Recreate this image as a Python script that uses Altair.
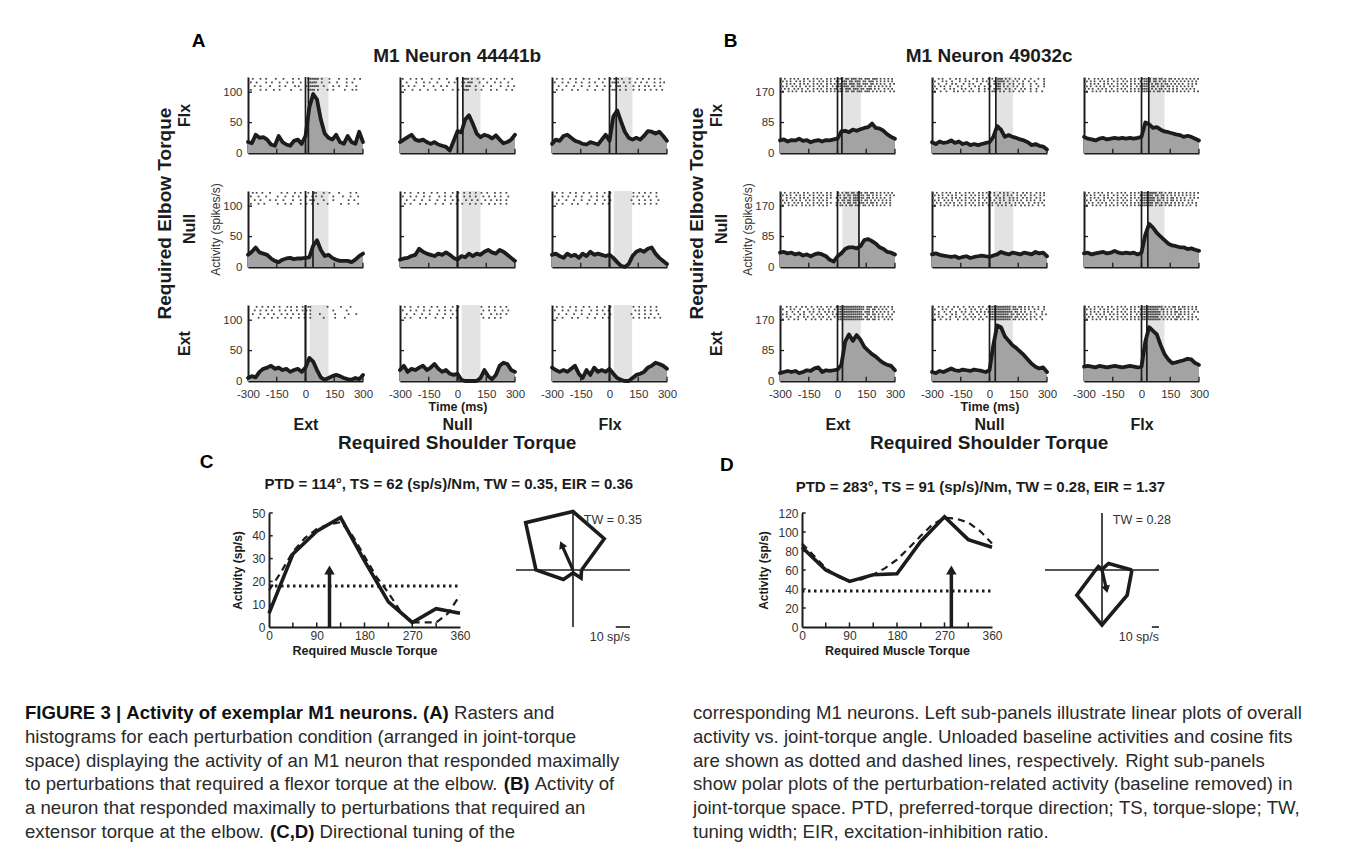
import altair as alt
import pandas as pd

FONT = "Liberation Sans"
INK = "#1c1c1c"
LAB = "#333333"

# ---------------- categories, ticks ----------------
TIME_MS = [-300 + 20 * k for k in range(31)]
ELBOW = ["Flx", "Null", "Ext"]
SHOULDER = ["Ext", "Null", "Flx"]
TIME_TICKS = [-300, -150, 0, 150, 300]
A_YTICKS = [0, 50, 100]
B_YTICKS = [0, 85, 170]
A_YMAX = 125
B_YMAX = 212
A_RASTER_LEVELS = [122, 116, 110, 104]
B_RASTER_LEVELS = [207, 200, 193, 186, 179, 172]

# ---------------- Neuron 44441b (panel A) firing rate, spikes/s, every 20 ms ----------------
a_flx_ext = [18, 16, 30, 25, 26, 22, 14, 12, 28, 18, 14, 12, 20, 22, 15, 28, 75, 97, 88, 55, 32, 25, 22, 30, 18, 15, 28, 18, 15, 35, 18]
a_flx_null = [18, 22, 26, 30, 22, 20, 22, 18, 15, 18, 14, 12, 10, 4, 20, 36, 34, 55, 62, 48, 32, 26, 30, 28, 24, 29, 22, 16, 18, 22, 30]
a_flx_flx = [15, 22, 20, 28, 30, 25, 20, 18, 15, 14, 18, 16, 14, 22, 30, 20, 60, 70, 52, 35, 25, 22, 25, 22, 28, 36, 35, 32, 35, 28, 20]
a_null_ext = [20, 25, 32, 24, 22, 20, 14, 10, 8, 12, 14, 15, 13, 14, 14, 15, 16, 35, 44, 28, 18, 20, 15, 12, 10, 10, 10, 8, 12, 18, 22]
a_null_null = [12, 14, 15, 18, 20, 30, 25, 22, 20, 18, 22, 20, 24, 20, 15, 12, 18, 16, 22, 18, 22, 20, 25, 28, 24, 22, 28, 25, 20, 15, 10]
a_null_flx = [20, 22, 18, 15, 22, 18, 20, 15, 22, 18, 25, 20, 22, 20, 18, 20, 15, 8, 2, 0, 5, 18, 25, 28, 25, 30, 32, 22, 15, 10, 5]
a_ext_ext = [5, 8, 6, 15, 20, 22, 25, 20, 22, 18, 20, 15, 18, 20, 15, 22, 38, 32, 18, 6, 2, 5, 8, 10, 8, 5, 3, 2, 5, 3, 10]
a_ext_null = [18, 25, 15, 20, 18, 22, 25, 18, 22, 28, 20, 15, 18, 12, 10, 12, 2, 0, 0, 0, 0, 5, 18, 8, 3, 10, 25, 30, 28, 18, 15]
a_ext_flx = [22, 18, 15, 18, 15, 20, 25, 12, 5, 18, 10, 22, 15, 18, 15, 20, 12, 5, 2, 0, 0, 5, 10, 12, 15, 22, 25, 30, 28, 25, 20]

# ---------------- Neuron 49032c (panel B) ----------------
b_flx_ext = [35, 38, 32, 36, 35, 40, 34, 36, 30, 34, 36, 32, 36, 35, 38, 40, 60, 62, 58, 65, 62, 66, 70, 72, 82, 70, 68, 62, 52, 45, 40]
b_flx_null = [30, 25, 32, 28, 30, 35, 28, 32, 25, 28, 22, 25, 22, 25, 28, 30, 45, 75, 65, 45, 50, 45, 42, 38, 35, 30, 22, 25, 20, 18, 10]
b_flx_flx = [45, 40, 38, 35, 40, 42, 38, 40, 42, 40, 42, 40, 42, 40, 42, 45, 85, 80, 70, 72, 65, 60, 58, 55, 52, 50, 45, 48, 45, 40, 35]
b_null_ext = [40, 42, 38, 40, 35, 38, 32, 35, 30, 35, 38, 35, 30, 20, 15, 30, 38, 50, 55, 55, 52, 58, 75, 78, 72, 65, 55, 50, 42, 40, 35]
b_null_null = [35, 38, 34, 32, 30, 28, 30, 25, 28, 30, 25, 28, 30, 32, 30, 28, 32, 35, 42, 38, 35, 40, 38, 35, 40, 38, 35, 42, 38, 40, 30]
b_null_flx = [38, 40, 35, 38, 40, 42, 38, 40, 45, 40, 38, 40, 38, 40, 35, 40, 90, 120, 110, 95, 85, 75, 65, 60, 58, 55, 55, 50, 52, 48, 45]
b_ext_ext = [22, 25, 28, 25, 28, 22, 25, 30, 28, 35, 38, 25, 30, 28, 30, 32, 45, 110, 130, 112, 128, 115, 95, 85, 75, 68, 58, 50, 45, 42, 30]
b_ext_null = [25, 22, 28, 25, 30, 35, 30, 28, 32, 30, 28, 32, 30, 28, 25, 30, 100, 155, 150, 125, 112, 100, 92, 82, 72, 60, 48, 40, 35, 38, 25]
b_ext_flx = [40, 42, 40, 38, 42, 40, 38, 40, 42, 40, 38, 40, 42, 40, 38, 40, 110, 150, 140, 130, 100, 75, 60, 50, 52, 55, 58, 62, 60, 50, 45]

# second event marker (ms, 0 = none) and shaded window, order Flx/Null/Ext rows x Ext/Null/Flx cols
a_marker = [15, 28, 35, 39, 0, 0, 0, 0, 0]
a_shade_start = [15, 28, 35, 39, 22, 22, 22, 22, 22]
a_shade_end = [120, 120, 120, 120, 120, 118, 120, 120, 118]
b_marker = [23, 33, 38, 112, 0, 33, 26, 30, 28]
b_shade_start = [23, 35, 38, 25, 26, 33, 26, 30, 28]
b_shade_end = [122, 122, 120, 112, 124, 120, 122, 122, 120]

# rasters: one string per trial, one character per 10 ms bin from -300 ms, "x" = spike
ra_flx_ext = ["  x   x  x    x   x    x  x    xxxxxx x   x    x   x   x  x ",
              " x  x    x  x   x   x  x   x   xxxxx  x   x   x    x  x     ",
              "   x  x    x    x  x    x x   x xxxxx  x    x  x   x    x  ",
              " x    x  x   x  x     x    x   xxxx x    x  x     x   x x   "]
ra_flx_null = [" x   x  x  x    x   x   x    x   xxx x  x  x   x  x   x   x ",
               "   x    x   x  x   x     x  x   xx xxx   x   x   x  x   x   ",
               " x  x  x    x    x   x  x       x xxx  x   x   x    x   x  x",
               "  x   x   x   x   x   x    x  x  xxx   x  x    x  x    x  x "]
ra_flx_flx = ["  x  x   x  x   x  x    x  x  x xxx x   x   x  x  x  x  x  ",
              " x   x  x   x  x   x  x   x    xxxx  x  x  x  x  x   x  x x",
              "   x   x   x   x   x   x   x  x  xxx  x   x  x  x x  x  x  ",
              "  x  x    x  x    x   x   x    xxx x  x   x  x  x  x  x  x "]
ra_null_ext = ["  x x  x   x     x  x   x  x   x  xx   x  x    x     x  x  ",
               " x   x   x     x   x   x  x   x  x x  x     x    x   x   x ",
               "   x  x    x  x   x    x   x    xxx    x    x       x  x   ",
               " x   x  x      x   x  x    x  x  x  x    x      x   x    x "]
ra_null_null = ["  x  x   x  x   x  x   x   x  x  x  x  x  x  x   x  x  x  ",
                " x   x  x   x  x    x  x  x  x   x  x  x   x  x  x  x   x ",
                "   x   x   x   x   x   x   x  x   x  x  x   x  x  x x  x  ",
                "  x  x    x  x    x   x   x  x  x   x  x  x   x  x  x  x  "]
ra_null_flx = ["  x  x   x  x   x  x   x   x  x           x  x  x  x  x   ",
               " x   x  x   x  x    x  x  x  x            x x  x  x   x   ",
               "   x   x   x   x   x   x   x  x          x   x  x  x   x   ",
               "  x  x    x  x    x   x   x  x            x  x  x  x  x    "]
ra_ext_ext = ["    x  x  x  x  x   x x  x  x  xx        x      x    x    ",
              "   x  x  x  x   x  x  x  x  x x x           x      x      ",
              "  x   x   x  x   x  x  x  x  x  x    x       x      x   x  ",
              "     x  x   x  x   x  x   x  x  x      x     x    x       "]
ra_ext_null = ["  x  x   x  x   x  x   x   x  x           x   x  x  x  x  ",
               " x   x  x   x  x    x  x  x  x             x  x  x   x  x  ",
               "   x   x   x   x   x   x   x              x    x  x x  x   ",
               "  x  x    x  x    x   x   x  x             x  x  x  x     "]
ra_ext_flx = ["  x  x   x  x   x  x   x   x  x           x  x  x  x  x   ",
              " x   x  x   x  x    x  x  x  x             x x  x  x  x   ",
              "   x   x   x   x   x   x   x  x          x   x  x  x   x  ",
              "  x  x    x  x    x   x   x  x            x  x  x x  x  x "]

rb_flx_ext = ["x x  x x x  x x  x x x  x x x xxx xx xxx xx xxx xxx x x x x ",
              " x x x  x x x  x x  x x x x  xx xxx xx xxx xx xxx x x x x x ",
              "x  x x x  x x x  x x x  x x x xx xx xxx xx xxx xx x x x  x x",
              " x x  x x x  x x x  x x x  x xxx xxx xx xxx x xx x x x x x  ",
              "x x x  x x x  x  x x x  x x xx xx xxx xxx xx xxx x x  x x x ",
              " x  x x x  x x x x  x x x x x xxx xx xx xxx xxx x x x x  x x"]
rb_flx_null = ["x  x x   x  x x  x   x x  x  x x  xxx x x  x x  x  x   x  x ",
               " x   x x  x   x  x x   x  x x   x xxxx x  x x  x  x  x    x ",
               "x  x   x  x x   x  x x   x   x  xxxx x  x x  x x   x  x   x ",
               " x  x x  x   x x   x  x x  x  x  xxx x x  x x  x   x   x  x",
               "x x   x  x x   x x  x   x  x x  xxxx  x x  x  x x  x  x    ",
               " x  x  x   x x  x  x x  x  x   xxx x x  x x  x x   x  x  x "]
rb_flx_flx = ["x x  x x x  x x  x x x  x x x xxxxx xx xx x xx x x x x x x x",
              " x x x  x x x  x x  x x x x  x xxxx xx x xx x x x x x x x x ",
              "x  x x x  x x x  x x x  x x x xxxx x xx x xx x x x x  x x x ",
              " x x  x x x  x x x  x x x  x xxxxx xx x xx xx x x x x x x  ",
              "x x x  x x x  x  x x x  x x x xxxx x x xx x x x x  x x x x ",
              " x  x x x  x x x x  x x x x x xxxxx x xx x xx x x x x x  x x"]
rb_null_ext = ["x x  x x x  x x  x x x  x x   x x xx xx xxx xx xx x x x x x ",
               " x x x  x x x  x x  x x x x   xx x xx xxx xx xx x x x  x x x",
               "x  x x x  x x x  x x x  x x  x x xx x xxx xx xx x x x x  x ",
               " x x  x x x  x x x  x x x     x xx xx xxx x xx x x x x x x ",
               "x x x  x x x  x  x x x  x x  x x x xx xx xxx x xx x  x x x ",
               " x  x x x  x x x x  x x x    x xx x xx xxx xx x x x x x  x "]
rb_null_null = ["x x  x x x  x x  x x x  x x x x x  x x x  x x  x x x  x x x ",
                " x x x  x x x  x x  x x x x  x  x x  x x x  x x x  x x  x x",
                "x  x x x  x x x  x x x  x x x x  x x x  x x x  x x x  x x  ",
                " x x  x x x  x x x  x x x  x  x x  x x  x x x x  x x x  x x",
                "x x x  x x x  x  x x x  x x x  x x x  x x  x x x  x  x x x ",
                " x  x x x  x x x x  x x x x  x x  x x x  x x  x x x x  x  x"]
rb_null_flx = ["x x  x x x  x x  x x x  x x x xxxxxxxx xx x xx x x x x x x x",
               " x x x  x x x  x x  x x x x  xxxxxxx xx xx x x x x x x x x ",
               "x  x x x  x x x  x x x  x x x xxxxxxx x xx x xx x x x  x x x",
               " x x  x x x  x x x  x x x  x xxxxxxxx xx x x xx x x x x x  ",
               "x x x  x x x  x  x x x  x x x xxxxxx xx x xx x x x x  x x x ",
               " x  x x x  x x x x  x x x x xxxxxxxx x xx x xx x x x x x  x"]
rb_ext_ext = ["x  x x  x  x x  x  x x  x x  xxxxxxxxxxxxxxx xxx xx x x x x ",
              " x   x x  x   x  x  x x  x  x xxxxxxxxxxxxxx xx xx x x x  x ",
              "x  x  x  x  x  x x  x  x x x  xxxxxxxxxxxxx xxx x x x x x  x",
              " x x   x  x x   x  x x  x  x xxxxxxxxxxxxxxx xx xx x x  x x ",
              "x  x x   x  x x  x  x x  x  x xxxxxxxxxxxxx xx x x x x x x  ",
              " x  x  x x   x  x x  x  x x   xxxxxxxxxxxxxx xx xx x  x x x "]
rb_ext_null = ["x  x x  x  x x  x  x x  x x  xxxxxxxxxxxx xx xx x x x  x  x ",
               " x   x x  x   x  x  x x  x  x xxxxxxxxxxx xxx x x x  x x  x ",
               "x  x  x  x  x  x x  x  x x x xxxxxxxxxxxxx xx x x  x x   x  ",
               " x x   x  x x   x  x x  x  x  xxxxxxxxxx xx xx x x x  x  x x",
               "x  x x   x  x x  x  x x  x  x xxxxxxxxxxxx xx x x  x x  x   ",
               " x  x  x x   x  x x  x  x x   xxxxxxxxxxx xx x x x x  x  x  "]
rb_ext_flx = ["x x  x x x  x x  x x x  x x x xxxxxxxxxxx x x xx x xx x x x ",
              " x x x  x x x  x x  x x x x  xxxxxxxxxx xx x x x xx x x x x ",
              "x  x x x  x x x  x x x  x x x xxxxxxxxxx x x x xx x x x  x x",
              " x x  x x x  x x x  x x x  x xxxxxxxxxxx x x x x xx x x x  ",
              "x x x  x x x  x  x x x  x x x xxxxxxxxx x x x x xx x  x x x ",
              " x  x x x  x x x x  x x x x x xxxxxxxxxx x x x xx x x x x  x"]

# ---------------- panels C / D: tuning vs joint-torque angle ----------------
TORQUE_DIRS = [0, 45, 90, 135, 180, 225, 270, 315, 360]
FIT_DIRS = [0, 22.5, 45, 67.5, 90, 112.5, 135, 157.5, 180, 202.5, 225, 247.5, 270, 292.5, 315, 337.5, 360]
ANGLE_LABELS = [0, 90, 180, 270, 360]
ANGLE_MINOR = [45, 90, 135, 180, 225, 270, 315]
POLAR_DIRS = [0, 45, 90, 135, 180, 225, 270, 315]

c_activity = [6, 32, 42, 48, 29, 11, 2, 8, 6]
c_fit = [16, 24, 33, 39, 43, 45, 46, 40, 31, 22, 15, 7, 2, 2, 2, 6, 14]
c_baseline = 18
c_ptd = 114
c_arrow = 25
c_polar_r = [6, 31, 41, 47, 26, 9.5, 2, 8]
c_polar_arrow = 19.5
c_yticks = [0, 10, 20, 30, 40, 50]

d_activity = [84, 60, 48, 55, 56, 90, 116, 92, 84]
d_fit = [88, 75, 62, 53, 48, 50, 55, 62, 71, 83, 96, 108, 115, 114, 110, 101, 88]
d_baseline = 38
d_ptd = 283
d_arrow = 60
d_polar_r = [42, 13, 1, 7, 9, 50, 77, 50]
d_polar_arrow = 28
d_yticks = [0, 20, 40, 60, 80, 100, 120]

# ---------------- caption ----------------
cap_left = [
    [("FIGURE 3 | Activity of exemplar M1 neurons. (A)", True), (" Rasters and", False)],
    [("histograms for each perturbation condition (arranged in joint-torque", False)],
    [("space) displaying the activity of an M1 neuron that responded maximally", False)],
    [("to perturbations that required a flexor torque at the elbow. ", False), ("(B)", True), (" Activity of", False)],
    [("a neuron that responded maximally to perturbations that required an", False)],
    [("extensor torque at the elbow. ", False), ("(C,D)", True), (" Directional tuning of the", False)],
]
cap_right = [
    [("corresponding M1 neurons. Left sub-panels illustrate linear plots of overall", False)],
    [("activity vs. joint-torque angle. Unloaded baseline activities and cosine fits", False)],
    [("are shown as dotted and dashed lines, respectively. Right sub-panels", False)],
    [("show polar plots of the perturbation-related activity (baseline removed) in", False)],
    [("joint-torque space. PTD, preferred-torque direction; TS, torque-slope; TW,", False)],
    [("tuning width; EIR, excitation-inhibition ratio.", False)],
]

# Arial / Liberation Sans advance widths (1/1000 em), used to place words of mixed weight
REG_W = {" ": 278, "a": 556, "b": 556, "c": 500, "d": 556, "e": 556, "f": 278, "g": 556, "h": 556, "i": 222,
         "j": 222, "k": 500, "l": 222, "m": 833, "n": 556, "o": 556, "p": 556, "q": 556, "r": 333, "s": 500,
         "t": 278, "u": 556, "v": 500, "w": 722, "x": 500, "y": 500, "z": 500, ".": 278, ",": 278, "(": 333,
         ")": 333, "-": 333, ";": 278, ":": 278, "|": 260, "A": 667, "B": 667, "C": 722, "D": 722, "E": 667,
         "F": 611, "G": 778, "I": 278, "L": 556, "M": 833, "P": 667, "R": 722, "S": 667, "T": 611, "U": 722,
         "W": 944}
BOLD_W = {" ": 278, "a": 556, "b": 611, "c": 556, "d": 611, "e": 556, "f": 333, "g": 611, "h": 611, "i": 278,
          "j": 278, "k": 556, "l": 278, "m": 889, "n": 611, "o": 611, "p": 611, "q": 611, "r": 389, "s": 556,
          "t": 333, "u": 611, "v": 556, "w": 778, "x": 556, "y": 556, "z": 500, ".": 278, ",": 278, "(": 333,
          ")": 333, "|": 280, "A": 722, "B": 722, "C": 722, "D": 722, "E": 667, "F": 611, "G": 778, "I": 278,
          "M": 833, "R": 722, "U": 722}
CAP_FS_REG = 18.6
CAP_FS_BOLD = 18.6
CAP_LINE = 23.8


def text_w(s, bold):
    tbl = BOLD_W if bold else REG_W
    size = CAP_FS_BOLD if bold else CAP_FS_REG
    return sum(tbl.get(c, 556) for c in s) * size / 1000.0


def raster_df(rows, levels):
    recs = []
    for row, lev in zip(rows, levels):
        for i, ch in enumerate(row[:60]):
            if ch == "x":
                recs.append({"t": -300 + 10 * i + 5, "y": lev})
    return pd.DataFrame(recs)


def hist_cell(act, rows, levels, marker, s0, s1, ymax, yticks, i, j):
    xs = alt.Scale(domain=[-300, 300], nice=False, zero=False)
    ys = alt.Scale(domain=[0, ymax], nice=False, zero=True)
    common = dict(ticks=False, tickSize=0, domainColor=INK, domainWidth=2, grid=False, labelFontSize=11.5,
                  labelColor=LAB, labelFont=FONT, titleFont=FONT, titleColor=INK, labelFlush=False)
    xkw = dict(common, values=TIME_TICKS, labels=(i == 2), labelPadding=7, labelAngle=0, labelOverlap=False,
               labelExpr="'' + datum.value")
    if i == 2 and j == 1:
        xkw.update(title="Time (ms)", titleFontSize=12.5, titleFontWeight="bold", titlePadding=1)
    elif i == 2:
        xkw.update(title=SHOULDER[j], titleFontSize=16, titleFontWeight="bold", titlePadding=17)
    else:
        xkw.update(title=None)
    ykw = dict(common, values=yticks, labels=(j == 0), labelPadding=6)
    if j == 0 and i == 1:
        ykw.update(title="Activity (spikes/s)", titleFontSize=12, titleFontWeight="normal", titlePadding=0,
                   titleColor=LAB)
    elif j == 0:
        ykw.update(title=ELBOW[i], titleFontSize=16, titleFontWeight="bold", titlePadding=30)
    else:
        ykw.update(title=None)
    xax = alt.Axis(**xkw)
    yax = alt.Axis(**ykw)

    def X(f):
        return alt.X(f, type="quantitative", scale=xs, axis=xax)

    def Y(f):
        return alt.Y(f, type="quantitative", scale=ys, axis=yax)

    shade = alt.Chart(pd.DataFrame({"s0": [s0], "s1": [s1], "lo": [0], "hi": [ymax]})).mark_rect(
        color="#e3e3e3").encode(x=X("s0"), x2="s1", y=Y("lo"), y2="hi")
    hist = pd.DataFrame({"t": TIME_MS, "v": act})
    area = alt.Chart(hist).mark_area(color="#a3a3a3").encode(x=X("t"), y=Y("v"))
    rast = alt.Chart(raster_df(rows, levels)).mark_square(size=3, color="#474747", opacity=1).encode(
        x=X("t"), y=Y("y"))
    xt = pd.DataFrame({"t": TIME_TICKS[1:], "lo": [0] * 4, "hi": [ymax * 0.055] * 4})
    xtick = alt.Chart(xt).mark_rule(color=INK, strokeWidth=1.3).encode(x=X("t"), y=Y("lo"), y2="hi")
    yt = pd.DataFrame({"a": [-300] * (len(yticks) - 1), "b": [-279] * (len(yticks) - 1), "v": yticks[1:]})
    ytick = alt.Chart(yt).mark_rule(color=INK, strokeWidth=1.3).encode(x=X("a"), x2="b", y=Y("v"))
    ev = alt.Chart(pd.DataFrame({"t": [0, marker], "lo": [0, 0], "hi": [ymax, ymax]})).mark_rule(
        color=INK, strokeWidth=1.7).encode(x=X("t"), y=Y("lo"), y2="hi")
    line = alt.Chart(hist).mark_line(color=INK, strokeWidth=3.8, strokeJoin="round", strokeCap="round").encode(
        x=X("t"), y=Y("v"))
    ch = alt.layer(shade, area, rast, xtick, ytick, ev, line).properties(width=115, height=76)
    if i == 1 and j == 0:
        ch = ch.properties(title=alt.TitleParams("Null", orient="left", anchor="middle", fontSize=16,
                                                 fontWeight="bold", offset=12, color=INK, font=FONT))
    if i == 2 and j == 1:
        ch = ch.properties(title=alt.TitleParams("Null", orient="bottom", anchor="middle", fontSize=16,
                                                 fontWeight="bold", offset=4, color=INK, font=FONT))
    return ch


def neuron_block(acts, rasters, levels, markers, s0s, s1s, ymax, yticks, name, letter):
    cells = []
    for i in range(3):
        for j in range(3):
            k = 3 * i + j
            cells.append(hist_cell(acts[k], rasters[k], levels, markers[k], s0s[k], s1s[k], ymax, yticks, i, j))
    grid = alt.concat(*cells, columns=3, spacing={"row": 38, "column": 37}, bounds="flush", align="all")
    g1 = grid.properties(title=alt.TitleParams("Required Elbow Torque", orient="left", anchor="middle",
                                               frame="bounds", fontSize=19, fontWeight="bold", offset=2, dx=41,
                                               color=INK, font=FONT))
    g2 = alt.vconcat(g1, title=alt.TitleParams("Required Shoulder Torque", orient="bottom", anchor="middle",
                                               frame="bounds", fontSize=19, fontWeight="bold", offset=1, dx=41,
                                               color=INK, font=FONT))
    g3 = alt.vconcat(g2, title=alt.TitleParams(name, anchor="middle", frame="bounds", fontSize=19,
                                               fontWeight="bold", offset=10, dx=41, color=INK, font=FONT))
    g4 = alt.vconcat(g3, title=alt.TitleParams(letter, anchor="start", frame="bounds", fontSize=19,
                                               fontWeight="bold", offset=-4, dx=36, color="#000000", font=FONT))
    return g4


def tuning_panel(act, fit, base, ptd, arrow_h, ymax, yticks, width):
    xs = alt.Scale(domain=[0, 360], nice=False, zero=False)
    ys = alt.Scale(domain=[0, ymax], nice=False, zero=True)
    common = dict(ticks=False, tickSize=0, domainColor=INK, domainWidth=2, grid=False, labelFontSize=12,
                  labelColor=LAB, labelFont=FONT, titleFont=FONT, titleColor=INK, titleFontWeight="bold",
                  labelAngle=0, labelFlush=False)
    xax = alt.Axis(**common, values=ANGLE_LABELS, labelPadding=3, title="Required Muscle Torque",
                   titleFontSize=12.5, titlePadding=3)
    yax = alt.Axis(**common, values=yticks, labelPadding=4, title="Activity (sp/s)", titleFontSize=12,
                   titlePadding=7)

    def X(f):
        return alt.X(f, type="quantitative", scale=xs, axis=xax)

    def Y(f):
        return alt.Y(f, type="quantitative", scale=ys, axis=yax)

    basel = alt.Chart(pd.DataFrame({"a": [0], "b": [360], "v": [base]})).mark_rule(
        color=INK, strokeWidth=3, strokeDash=[2.5, 3.5]).encode(x=X("a"), x2="b", y=Y("v"))
    fitl = alt.Chart(pd.DataFrame({"d": FIT_DIRS, "v": fit})).mark_line(
        color=INK, strokeWidth=2.2, strokeDash=[7, 5]).encode(x=X("d"), y=Y("v"))
    actl = alt.Chart(pd.DataFrame({"d": TORQUE_DIRS, "v": act})).mark_line(
        color=INK, strokeWidth=3.6, strokeJoin="miter").encode(x=X("d"), y=Y("v"))
    arr = pd.DataFrame({"d": [ptd], "lo": [0], "hi": [arrow_h]})
    shaft = alt.Chart(arr).mark_rule(color=INK, strokeWidth=3.5).encode(x=X("d"), y=Y("lo"), y2="hi")
    head = alt.Chart(arr).mark_point(shape="triangle-up", filled=True, size=110, color=INK, opacity=1).encode(
        x=X("d"), y=Y("hi"))
    xt = pd.DataFrame({"d": ANGLE_MINOR, "lo": [0] * len(ANGLE_MINOR), "hi": [ymax * 0.04] * len(ANGLE_MINOR)})
    xtick = alt.Chart(xt).mark_rule(color=INK, strokeWidth=1.5).encode(x=X("d"), y=Y("lo"), y2="hi")
    yt = pd.DataFrame({"a": [0] * (len(yticks) - 1), "b": [7] * (len(yticks) - 1), "v": yticks[1:]})
    ytick = alt.Chart(yt).mark_rule(color=INK, strokeWidth=1.5).encode(x=X("a"), x2="b", y=Y("v"))
    return alt.layer(basel, fitl, actl, shaft, head, xtick, ytick).properties(width=width, height=114)


def polar_panel(r_vals, R, ptd, alen, tw_label):
    xs = alt.Scale(domain=[-R, R], nice=False, zero=False)
    ys = alt.Scale(domain=[-R, R], nice=False, zero=False)

    def X(f):
        return alt.X(f, type="quantitative", scale=xs, axis=None)

    def Y(f):
        return alt.Y(f, type="quantitative", scale=ys, axis=None)

    cross = alt.Chart(pd.DataFrame({"x1": [-R, 0], "x2": [R, 0], "y1": [0, -R], "y2": [0, R]})).mark_rule(
        color=INK, strokeWidth=1.6).encode(x=X("x1"), x2="x2", y=Y("y1"), y2="y2")
    poly_df = pd.DataFrame({"ang": POLAR_DIRS + [POLAR_DIRS[0]], "r": r_vals + [r_vals[0]],
                            "k": list(range(len(r_vals) + 1))})
    poly = alt.Chart(poly_df).transform_calculate(
        px="datum.r*cos(datum.ang*PI/180)", py="datum.r*sin(datum.ang*PI/180)"
    ).mark_line(color=INK, strokeWidth=3.6, strokeJoin="miter").encode(x=X("px"), y=Y("py"), order="k:Q")
    arr = alt.Chart(pd.DataFrame({"ang": [ptd], "r": [alen]})).transform_calculate(
        z="0", px="datum.r*cos(datum.ang*PI/180)", py="datum.r*sin(datum.ang*PI/180)")
    shaft = arr.mark_rule(color=INK, strokeWidth=3.2).encode(x=X("z"), y=Y("z"), x2="px", y2="py")
    head = arr.mark_point(shape="triangle-up", filled=True, size=75, color=INK, opacity=1,
                          angle=(90 - ptd) % 360).encode(x=X("px"), y=Y("py"))
    bar = alt.Chart(pd.DataFrame({"a": [R - 10], "b": [R], "y": [-R]})).mark_rule(
        color=INK, strokeWidth=1.6).encode(x=X("a"), x2="b", y=Y("y"))
    bar_lab = alt.Chart(pd.DataFrame({"b": [R], "y": [-R], "txt": ["10 sp/s"]})).mark_text(
        align="right", baseline="top", dy=4, fontSize=12.5, color=LAB, font=FONT).encode(
        x=X("b"), y=Y("y"), text="txt:N")
    tw = alt.Chart(pd.DataFrame({"x": [0.19 * R], "y": [0.88 * R], "txt": [tw_label]})).mark_text(
        align="left", baseline="middle", fontSize=12.5, color=LAB, font=FONT).encode(
        x=X("x"), y=Y("y"), text="txt:N")
    return alt.layer(cross, poly, shaft, head, bar, bar_lab, tw).properties(width=114, height=114)


def tuning_block(line, polar, gap, title, tdx, letter, ldx):
    inner = alt.hconcat(line, polar, spacing=gap, bounds="flush",
                        title=alt.TitleParams(title, anchor="middle", frame="bounds", fontSize=15,
                                              fontWeight="bold", offset=12, dx=tdx, color=INK, font=FONT))
    return alt.vconcat(inner, title=alt.TitleParams(letter, anchor="start", frame="bounds", fontSize=19,
                                                    fontWeight="bold", offset=5, dx=ldx, color="#000000",
                                                    font=FONT))


def spacer(w):
    return alt.Chart(pd.DataFrame({"z": [0]})).mark_point(opacity=0, size=1).encode(
        x=alt.X("z:Q", axis=None), y=alt.Y("z:Q", axis=None)).properties(width=w, height=1)


def caption_chart(width, height, top, x_left, x_right):
    reg, bold = [], []
    for col_x, lines in ((x_left, cap_left), (x_right, cap_right)):
        for k, segs in enumerate(lines):
            words = [(w, b) for txt, b in segs for w in txt.split()]
            x = col_x
            for w, b in words:
                (bold if b else reg).append({"px": x, "py": top + k * CAP_LINE, "txt": w})
                x += text_w(w, b) + text_w(" ", b)
    xs = alt.Scale(domain=[0, width], range=[0, width], nice=False, zero=False)
    ys = alt.Scale(domain=[0, height], range=[0, height], nice=False, zero=False)
    enc = dict(x=alt.X("px:Q", scale=xs, axis=None), y=alt.Y("py:Q", scale=ys, axis=None), text="txt:N")
    lr = alt.Chart(pd.DataFrame(reg)).mark_text(align="left", baseline="middle", fontSize=CAP_FS_REG,
                                                color="#2a2a2a", font=FONT).encode(**enc)
    lb = alt.Chart(pd.DataFrame(bold)).mark_text(align="left", baseline="middle", fontSize=CAP_FS_BOLD,
                                                 fontWeight="bold", color="#111111", font=FONT).encode(**enc)
    return alt.layer(lr, lb).properties(width=width, height=height)


A_ACTS = [a_flx_ext, a_flx_null, a_flx_flx, a_null_ext, a_null_null, a_null_flx, a_ext_ext, a_ext_null, a_ext_flx]
A_RAST = [ra_flx_ext, ra_flx_null, ra_flx_flx, ra_null_ext, ra_null_null, ra_null_flx, ra_ext_ext, ra_ext_null,
          ra_ext_flx]
B_ACTS = [b_flx_ext, b_flx_null, b_flx_flx, b_null_ext, b_null_null, b_null_flx, b_ext_ext, b_ext_null, b_ext_flx]
B_RAST = [rb_flx_ext, rb_flx_null, rb_flx_flx, rb_null_ext, rb_null_null, rb_null_flx, rb_ext_ext, rb_ext_null,
          rb_ext_flx]

blockA = neuron_block(A_ACTS, A_RAST, A_RASTER_LEVELS, a_marker, a_shade_start, a_shade_end, A_YMAX, A_YTICKS,
                      "M1 Neuron 44441b", "A")
blockB = neuron_block(B_ACTS, B_RAST, B_RASTER_LEVELS, b_marker, b_shade_start, b_shade_end, B_YMAX, B_YTICKS,
                      "M1 Neuron 49032c", "B")

blockC = tuning_block(tuning_panel(c_activity, c_fit, c_baseline, c_ptd, c_arrow, 50, c_yticks, 191),
                      polar_panel(c_polar_r, 40, c_ptd, c_polar_arrow, "TW = 0.35"), 56,
                      "PTD = 114°, TS = 62 (sp/s)/Nm, TW = 0.35, EIR = 0.36", 12, "C", -32)
blockD = tuning_block(tuning_panel(d_activity, d_fit, d_baseline, d_ptd, d_arrow, 120, d_yticks, 190),
                      polar_panel(d_polar_r, 80, d_ptd, d_polar_arrow, "TW = 0.28"), 53,
                      "PTD = 283°, TS = 91 (sp/s)/Nm, TW = 0.28, EIR = 1.37", 16, "D", -38)

row1 = alt.hconcat(spacer(137), blockA, blockB, spacing=10)
row2 = alt.hconcat(spacer(114), blockC, blockD, spacing=77)
caption = caption_chart(1330, 146, 22, 17, 685)

chart = alt.vconcat(
    alt.vconcat(row1, row2, spacing=0),
    caption,
    spacing=34,
).properties(padding={"top": 24, "left": 0, "right": 0, "bottom": 0}).configure(font=FONT).configure_view(
    stroke=None).configure_title(font=FONT, color=INK, fontWeight="bold")

chart.save("out.html", embed_options={"renderer": "svg", "actions": False})
